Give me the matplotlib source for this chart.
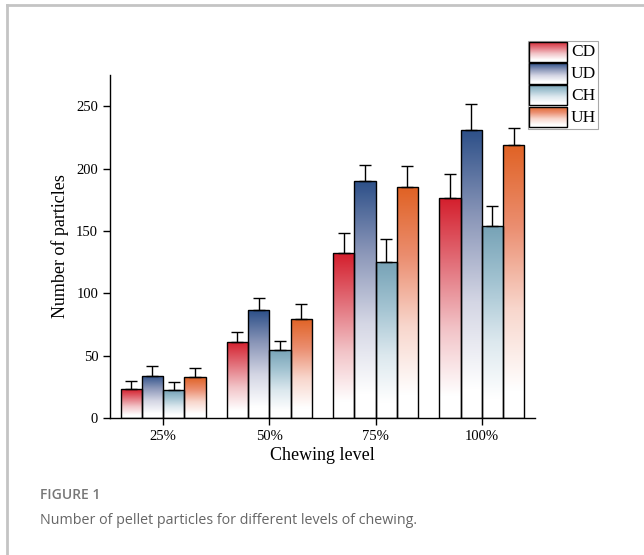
import numpy as np
import matplotlib
matplotlib.use("Agg")
import matplotlib.pyplot as plt
from matplotlib.colors import LinearSegmentedColormap
from matplotlib.patches import Rectangle
from matplotlib.lines import Line2D

# ---- data ----
levels = ["25%", "50%", "75%", "100%"]
groups = ["CD", "UD", "CH", "UH"]
cd_mean = [23.0, 61.0, 132.0, 176.5]
cd_err = [6.5, 7.7, 16.3, 19.5]
ud_mean = [33.7, 86.3, 190.0, 231.0]
ud_err = [7.7, 10.1, 13.0, 20.5]
ch_mean = [22.2, 54.8, 125.3, 154.1]
ch_err = [6.4, 6.7, 17.9, 15.8]
uh_mean = [32.6, 79.6, 185.1, 219.0]
uh_err = [7.7, 11.5, 16.6, 13.7]

means = [cd_mean, ud_mean, ch_mean, uh_mean]
errs = [cd_err, ud_err, ch_err, uh_err]

# vertical fade: white at the base, full colour at the bar top
ramps = {
    "CD": ["#ffffff", "#ffffff", "#f2c4c8", "#e2707a", "#d41e2c"],
    "UD": ["#ffffff", "#ffffff", "#d4d6e4", "#8a96b8", "#2c4f88"],
    "CH": ["#ffffff", "#ffffff", "#dce8ee", "#a4c4d2", "#76a2b6"],
    "UH": ["#ffffff", "#ffffff", "#f8d6cc", "#eb8e70", "#e06224"],
}
stops = [0.0, 0.1, 0.4, 0.7, 1.0]
cmaps = {g: LinearSegmentedColormap.from_list(g, list(zip(stops, c)))
         for g, c in ramps.items()}

serif = ["Liberation Serif", "DejaVu Serif"]
plt.rcParams["font.family"] = serif

fig = plt.figure(figsize=(6.44, 5.55), dpi=100)
fig.patch.set_facecolor("white")

ax = fig.add_axes([0.1708, 0.2468, 0.6599, 0.6181])
width = 0.2
x = np.arange(len(levels))
grad = np.linspace(0, 1, 256).reshape(-1, 1)

for gi, g in enumerate(groups):
    offs = (gi - 1.5) * width
    bars = ax.bar(x + offs, means[gi], width, facecolor="none",
                  edgecolor="black", linewidth=1.0, zorder=3)
    for b in bars:
        x0, w, h = b.get_x(), b.get_width(), b.get_height()
        im = ax.imshow(grad, cmap=cmaps[g], aspect="auto", origin="lower",
                       extent=(x0, x0 + w, 0, h), zorder=2,
                       interpolation="bilinear")
        im.set_clip_path(b)
    ax.errorbar(x + offs, means[gi], yerr=[np.zeros(4), errs[gi]],
                fmt="none", ecolor="black", elinewidth=1.0, capsize=4,
                capthick=1.0, zorder=4)

ax.set_xlim(-0.5, 3.5)
ax.set_ylim(0, 275)
ax.set_xticks(x)
ax.set_xticklabels(levels, fontsize=10.5)
ax.set_yticks([0, 50, 100, 150, 200, 250])
ax.tick_params(axis="y", labelsize=10.5, direction="out", length=5, width=1)
ax.tick_params(axis="x", direction="out", length=5, width=1)
for s in ["top", "right"]:
    ax.spines[s].set_visible(False)
for s in ["left", "bottom"]:
    ax.spines[s].set_linewidth(1.0)
ax.set_xlabel("Chewing level", fontsize=13, labelpad=3)
ax.set_ylabel("Number of particles", fontsize=13, labelpad=5)
ax.set_facecolor("none")

# legend with gradient swatches
lax = fig.add_axes([527 / 644, 1 - 129 / 555, 71 / 644, 89 / 555])
lax.axis("off")
lax.add_patch(Rectangle((0.5, 0.5), 70, 88, facecolor="white",
                        edgecolor="#a8a8a8", linewidth=0.8, clip_on=False))
for gi, g in enumerate(groups):
    y0 = 1.5 + gi * 21.7
    sw = Rectangle((1.5, y0), 38.5, 20.5, facecolor="none", edgecolor="black",
                   linewidth=1.0, zorder=3, clip_on=False)
    lax.add_patch(sw)
    im = lax.imshow(grad, cmap=cmaps[g], aspect="auto", origin="lower",
                    extent=(1.5, 40, y0 + 20.5, y0), zorder=2,
                    interpolation="bilinear")
    im.set_clip_path(sw)
    lax.text(44, y0 + 11, g, fontsize=12.5, va="center", ha="left")
lax.set_xlim(0, 71)
lax.set_ylim(89, 0)

# card border
fig.add_artist(Line2D([7 / 644, 1], [1 - 5 / 555, 1 - 5 / 555],
                      transform=fig.transFigure, color="#c4c4c4", lw=2))
fig.add_artist(Line2D([7 / 644, 7 / 644], [0, 1 - 5 / 555],
                      transform=fig.transFigure, color="#c4c4c4", lw=2))

# caption
fig.text(40 / 644, 1 - 495 / 555, "FIGURE 1", family=["Open Sans", "DejaVu Sans"],
         fontsize=10, fontweight="semibold", color="#777777", va="center")
fig.text(40 / 644, 1 - 521 / 555,
         "Number of pellet particles for different levels of chewing.",
         family=["Open Sans", "DejaVu Sans"], fontsize=10.3, color="#666666",
         va="center")

fig.savefig("out.png", dpi=100)
